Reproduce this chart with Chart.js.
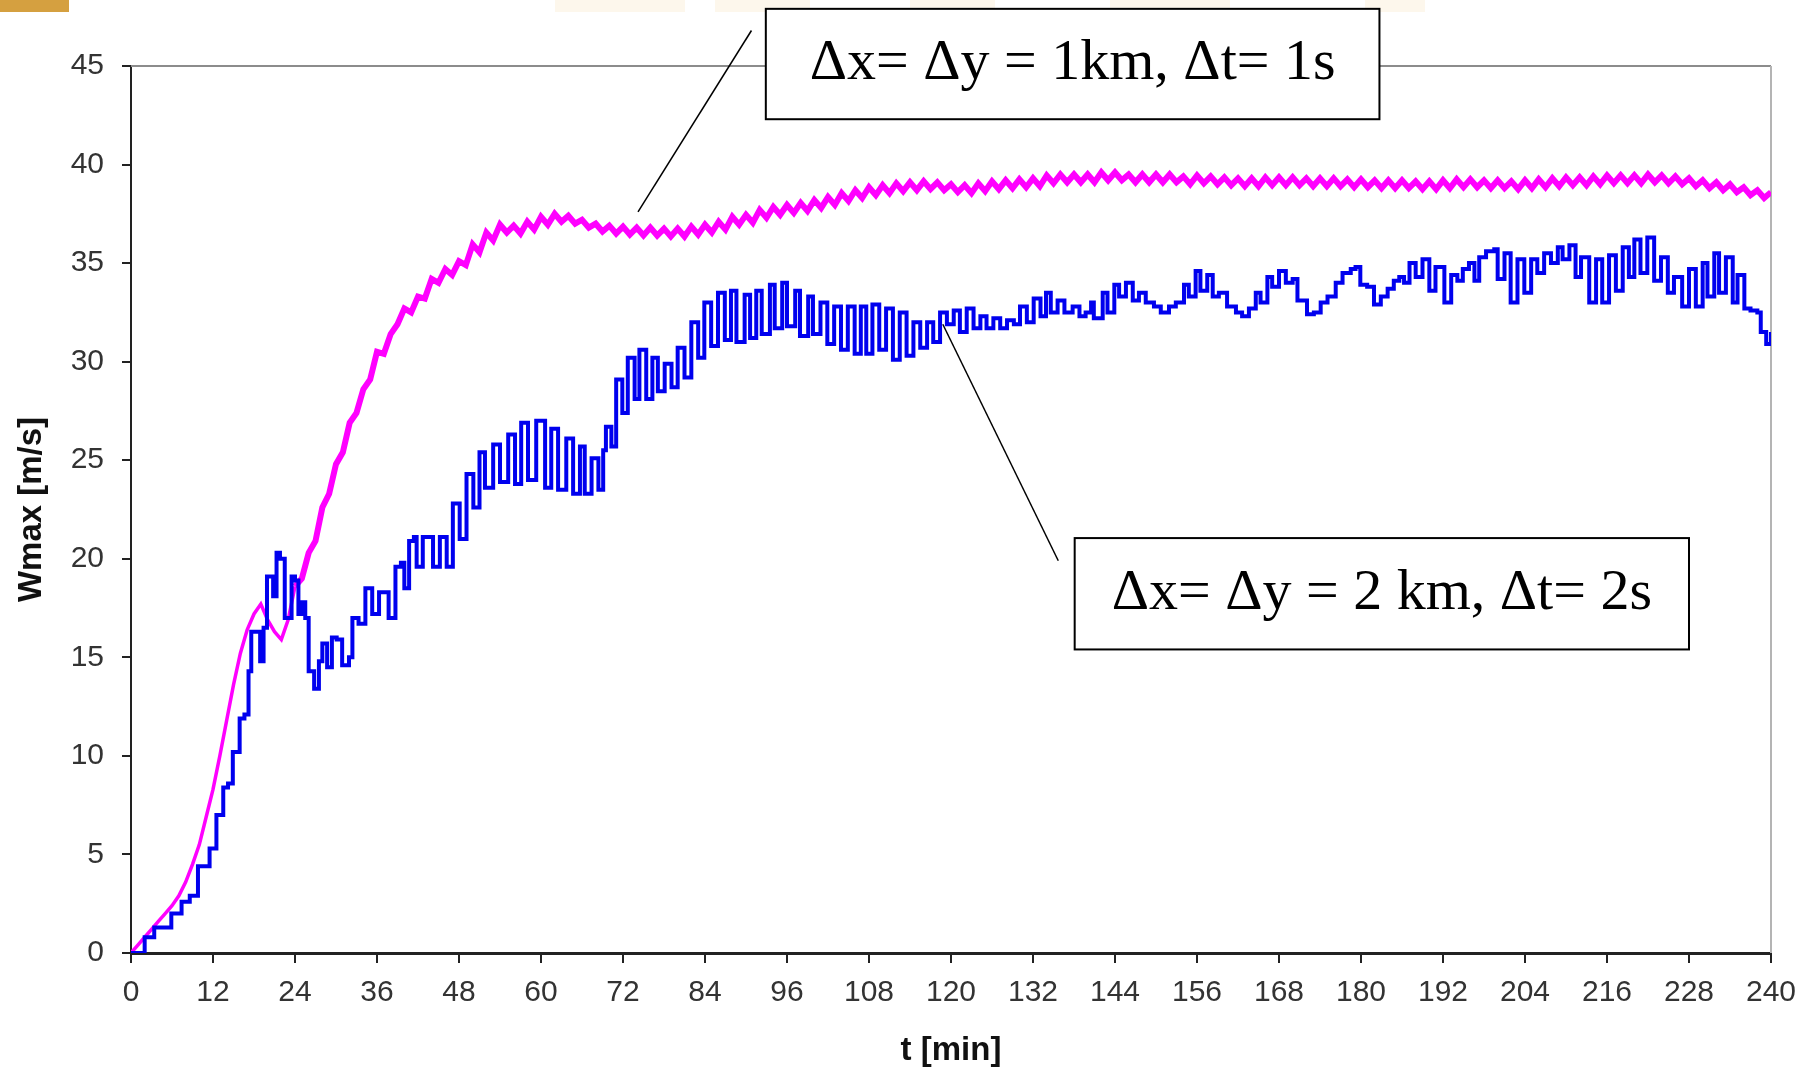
<!DOCTYPE html>
<html>
<head>
<meta charset="utf-8">
<title>Wmax vs t</title>
<script src="https://cdn.jsdelivr.net/npm/chart.js@4.4.0/dist/chart.umd.min.js"></script>
<style>
  html, body { margin: 0; padding: 0; background: #fff; }
  #wrap { width: 1814px; height: 1071px; }
</style>
</head>
<body>
<div id="wrap"><canvas id="wmaxChart" width="1814" height="1071"></canvas></div>
<script>
// Axis ticks
const tickMinutes = [0, 12, 24, 36, 48, 60, 72, 84, 96, 108, 120, 132, 144, 156, 168, 180, 192, 204, 216, 228, 240];
const tickWmax = [0, 5, 10, 15, 20, 25, 30, 35, 40, 45];

// dx = dy = 1 km, dt = 1 s (magenta), one reading per minute
const magentaT = [
  0, 1, 2, 3, 4, 5, 6, 7, 8, 9, 10, 11, 12, 13, 14, 15, 16, 17, 18, 19,
  20, 21, 22, 23, 24, 25, 26, 27, 28, 29, 30, 31, 32, 33, 34, 35, 36, 37, 38, 39,
  40, 41, 42, 43, 44, 45, 46, 47, 48, 49, 50, 51, 52, 53, 54, 55, 56, 57, 58, 59,
  60, 61, 62, 63, 64, 65, 66, 67, 68, 69, 70, 71, 72, 73, 74, 75, 76, 77, 78, 79,
  80, 81, 82, 83, 84, 85, 86, 87, 88, 89, 90, 91, 92, 93, 94, 95, 96, 97, 98, 99,
  100, 101, 102, 103, 104, 105, 106, 107, 108, 109, 110, 111, 112, 113, 114, 115, 116, 117, 118, 119,
  120, 121, 122, 123, 124, 125, 126, 127, 128, 129, 130, 131, 132, 133, 134, 135, 136, 137, 138, 139,
  140, 141, 142, 143, 144, 145, 146, 147, 148, 149, 150, 151, 152, 153, 154, 155, 156, 157, 158, 159,
  160, 161, 162, 163, 164, 165, 166, 167, 168, 169, 170, 171, 172, 173, 174, 175, 176, 177, 178, 179,
  180, 181, 182, 183, 184, 185, 186, 187, 188, 189, 190, 191, 192, 193, 194, 195, 196, 197, 198, 199,
  200, 201, 202, 203, 204, 205, 206, 207, 208, 209, 210, 211, 212, 213, 214, 215, 216, 217, 218, 219,
  220, 221, 222, 223, 224, 225, 226, 227, 228, 229, 230, 231, 232, 233, 234, 235, 236, 237, 238, 239,
  240
];
const magentaW = [
  0, 0.4, 0.8, 1.2, 1.6, 2.0, 2.4, 2.9, 3.6, 4.5,
  5.5, 6.9, 8.3, 10.0, 11.8, 13.6, 15.2, 16.4, 17.2, 17.7,
  16.9, 16.3, 15.9, 16.9, 18.6, 19.0, 20.3, 20.9, 22.6, 23.3,
  24.8, 25.4, 26.9, 27.4, 28.6, 29.1, 30.5, 30.4, 31.4, 31.9,
  32.7, 32.5, 33.3, 33.2, 34.2, 34.0, 34.7, 34.4, 35.1, 34.9,
  35.95, 35.55, 36.55, 36.15, 36.95, 36.55, 36.9, 36.5, 37.1, 36.7,
  37.35, 36.95, 37.5, 37.1, 37.4, 37.0, 37.2, 36.8, 37.0, 36.6,
  36.9, 36.5, 36.85, 36.45, 36.8, 36.4, 36.8, 36.4, 36.75, 36.35,
  36.75, 36.35, 36.85, 36.45, 36.95, 36.55, 37.1, 36.7, 37.35, 36.95,
  37.45, 37.05, 37.7, 37.3, 37.85, 37.45, 37.95, 37.55, 38.05, 37.65,
  38.2, 37.8, 38.35, 37.95, 38.55, 38.15, 38.7, 38.3, 38.85, 38.45,
  38.95, 38.55, 39.05, 38.65, 39.1, 38.7, 39.15, 38.75, 39.1, 38.7,
  39.0, 38.6, 38.95, 38.55, 39.05, 38.65, 39.15, 38.75, 39.2, 38.8,
  39.25, 38.85, 39.3, 38.9, 39.45, 39.05, 39.5, 39.1, 39.5, 39.1,
  39.5, 39.1, 39.6, 39.2, 39.6, 39.2, 39.5, 39.1, 39.5, 39.1,
  39.5, 39.1, 39.5, 39.1, 39.4, 39.0, 39.45, 39.05, 39.4, 39.0,
  39.35, 38.95, 39.3, 38.9, 39.3, 38.9, 39.35, 38.95, 39.35, 38.95,
  39.35, 38.95, 39.3, 38.9, 39.3, 38.9, 39.3, 38.9, 39.25, 38.85,
  39.25, 38.85, 39.2, 38.8, 39.2, 38.8, 39.2, 38.8, 39.15, 38.75,
  39.15, 38.75, 39.2, 38.8, 39.25, 38.85, 39.25, 38.85, 39.2, 38.8,
  39.2, 38.8, 39.15, 38.75, 39.2, 38.8, 39.25, 38.85, 39.3, 38.9,
  39.35, 38.95, 39.35, 38.95, 39.4, 39.0, 39.45, 39.05, 39.45, 39.05,
  39.45, 39.05, 39.5, 39.1, 39.45, 39.05, 39.4, 39.0, 39.3, 38.9,
  39.2, 38.8, 39.1, 38.7, 39.0, 38.6, 38.85, 38.45, 38.7, 38.3,
  38.6
];

// dx = dy = 2 km, dt = 2 s (blue), readings at each turn of the trace
const blueT = [
  0, 2, 3.4, 5.9, 7.4, 8.6, 9.8, 11.5, 12.5, 13.5,
  14.2, 14.9, 15.9, 16.6, 17.2, 17.6, 18.4, 18.9, 19.4, 19.9,
  20.6, 20.8, 21.3, 21.8, 22.5, 23.5, 24, 24.5, 25, 25.5,
  26, 26.8, 27.5, 28, 28.7, 29.4, 30.1, 30.9, 31.9, 32.4,
  33.3, 34.3, 35.3, 36.3, 37, 37.7, 38.7, 39.5, 40, 40.7,
  41.4, 41.8, 42.7, 44.2, 45.2, 46.2, 47.1, 48.1, 49.1, 50.1,
  51, 51.8, 53, 54, 55.2, 56.2, 57.1, 58.1, 59.3, 60.6,
  61.5, 62.5, 63.7, 64.7, 65.7, 66.4, 67.4, 68.4, 69.1, 69.5,
  70.3, 71, 71.9, 72.7, 73.7, 74.4, 75.4, 76.3, 77.1, 78.1,
  79.1, 80, 81, 82, 83, 83.9, 84.9, 85.9, 86.9, 87.8,
  88.6, 89.8, 90.6, 91.5, 92.3, 93.5, 94.2, 95.3, 96, 97.2,
  97.9, 99.1, 99.8, 100.9, 101.9, 102.9, 103.9, 104.9, 105.9, 106.8,
  107.6, 108.5, 109.5, 110.5, 111.5, 112.5, 113.5, 114.5, 115.5, 116.5,
  117.4, 118.4, 119.4, 120.4, 121.3, 122.3, 123.3, 124.3, 125.2, 126.2,
  127.2, 128.2, 129.2, 130.1, 131.1, 132.1, 133.1, 133.9, 134.6, 135.6,
  136.6, 137.8, 138.8, 139.7, 140.5, 140.9, 142.2, 142.9, 143.9, 144.6,
  145.6, 146.6, 147.5, 148.5, 149.7, 150.7, 151.9, 152.9, 154.1, 154.8,
  155.8, 156.5, 157.5, 158.3, 159.2, 160.4, 161.7, 162.6, 163.6, 164.6,
  165.3, 166.3, 167, 168, 169, 170, 170.7, 171.7, 172.1, 173.1,
  174.1, 175.1, 176.3, 177.3, 178.5, 179.2, 179.9, 180.9, 181.9, 182.9,
  183.9, 184.8, 185.6, 186.3, 187.1, 188, 189, 190, 190.9, 192.2,
  193.2, 194.1, 194.9, 195.8, 196.6, 197.3, 198.3, 199.5, 200, 201,
  201.9, 202.9, 203.9, 204.9, 205.8, 206.8, 207.8, 208.8, 209.5, 210.5,
  211.4, 212.2, 213.4, 214.4, 215.3, 216.3, 217.3, 218.3, 219.2, 220,
  220.9, 221.9, 222.9, 223.9, 224.9, 225.8, 227, 228, 229, 230,
  230.7, 231.7, 232.4, 233.4, 234.4, 235.1, 236.1, 237, 238, 238.5,
  239.3, 240
];
const blueW = [
  0, 0.8, 1.3, 2.0, 2.6, 2.9, 4.4, 5.3, 7.0, 8.4,
  8.6, 10.2, 11.9, 12.1, 14.3, 16.3, 16.3, 14.8, 16.5, 19.1,
  19.1, 18.1, 20.3, 20.0, 17.0, 19.1, 18.9, 17.2, 17.8, 17.0,
  14.3, 13.4, 14.8, 15.7, 14.5, 16.0, 15.9, 14.6, 15.0, 17.0,
  16.7, 18.5, 17.2, 18.3, 18.3, 17.0, 19.6, 19.8, 18.5, 20.9,
  21.1, 19.6, 21.1, 19.6, 21.1, 19.6, 22.8, 21.0, 24.3, 22.6,
  25.4, 23.6, 25.8, 23.9, 26.3, 23.8, 26.9, 24.0, 27.0, 23.6,
  26.6, 23.5, 26.1, 23.3, 25.7, 23.3, 25.1, 23.5, 25.5, 26.7,
  25.7, 29.1, 27.4, 30.2, 28.1, 30.6, 28.1, 30.2, 28.5, 29.9,
  28.7, 30.7, 29.2, 32.0, 30.2, 33.0, 30.8, 33.5, 31.1, 33.6,
  31.0, 33.4, 31.2, 33.6, 31.4, 33.9, 31.7, 34.0, 31.8, 33.6,
  31.3, 33.3, 31.4, 33.0, 30.9, 32.8, 30.6, 32.8, 30.4, 32.8,
  30.4, 32.9, 30.6, 32.7, 30.1, 32.5, 30.3, 32.0, 30.7, 32.0,
  31.0, 32.5, 31.9, 32.6, 31.5, 32.7, 31.7, 32.3, 31.7, 32.2,
  31.7, 32.1, 31.9, 32.8, 32.0, 33.2, 32.3, 33.5, 32.5, 33.1,
  32.5, 32.8, 32.3, 32.5, 33.0, 32.2, 33.5, 32.5, 33.9, 33.3,
  34.0, 33.1, 33.5, 33.0, 32.8, 32.5, 32.8, 33.0, 33.9, 33.3,
  34.6, 33.6, 34.4, 33.3, 33.5, 32.8, 32.5, 32.3, 32.7, 33.5,
  33.0, 34.3, 33.8, 34.6, 34.0, 34.2, 33.1, 33.1, 32.4, 32.5,
  33.0, 33.3, 34.0, 34.5, 34.7, 34.8, 33.9, 33.8, 32.9, 33.3,
  33.7, 34.1, 34.3, 34.0, 35.0, 34.3, 35.2, 33.6, 34.8, 33.0,
  34.4, 34.1, 34.7, 35.0, 34.1, 35.3, 35.6, 35.7, 34.2, 35.5,
  33.0, 35.2, 33.5, 35.2, 34.5, 35.5, 35.0, 35.8, 35.2, 35.9,
  34.3, 35.3, 33.0, 35.2, 33.0, 35.4, 33.6, 35.8, 34.3, 36.2,
  34.5, 36.3, 34.1, 35.3, 33.5, 34.3, 32.8, 34.7, 32.8, 35.0,
  33.3, 35.5, 33.5, 35.3, 33.0, 34.4, 32.7, 32.6, 32.5, 31.5,
  30.9, 31.5
];

// Callout boxes, in data units: [tLeft, tRight, wTop, wBottom], leader from -> to
const notes = [
  { text: 'Δx= Δy = 1km, Δt= 1s', box: [92.9, 182.7, 47.9, 42.3], from: [74.2, 37.6], to: [90.8, 46.8] },
  { text: 'Δx= Δy = 2 km, Δt= 2s', box: [138.1, 228.0, 21.05, 15.4], from: [118.8, 31.9], to: [135.7, 19.9] }
];

const sansFamily = '"Liberation Sans", Arial, sans-serif';
const serifFamily = '"Liberation Serif", "Times New Roman", serif';

const zip = (xs, ys) => xs.map((x, i) => ({ x, y: ys[i] }));

// slide header remnants, frame lines and the callouts
const decorations = {
  id: 'decorations',
  beforeDraw(chart) {
    const { ctx } = chart;
    ctx.save();
    ctx.fillStyle = '#fff';
    ctx.fillRect(0, 0, chart.width, chart.height);
    ctx.fillStyle = '#d5a040';
    ctx.fillRect(0, 0, 69, 12);
    ctx.fillStyle = 'rgba(240, 200, 120, 0.14)';
    [[555, 130], [715, 95], [910, 85], [1110, 120], [1365, 60]].forEach(([l, w]) => ctx.fillRect(l, 0, w, 12));
    ctx.restore();
  },
  beforeDatasetsDraw(chart) {
    const { ctx, chartArea: a } = chart;
    ctx.save();
    ctx.lineWidth = 2;
    ctx.strokeStyle = '#8c8c8c';
    ctx.beginPath();
    ctx.moveTo(a.left, a.top);
    ctx.lineTo(a.right, a.top);
    ctx.stroke();
    ctx.strokeStyle = '#b4b4b4';
    ctx.beginPath();
    ctx.moveTo(a.right, a.top);
    ctx.lineTo(a.right, a.bottom);
    ctx.stroke();
    ctx.restore();
  },
  afterDraw(chart) {
    const { ctx, scales: { x, y } } = chart;
    ctx.save();
    notes.forEach(n => {
      ctx.strokeStyle = '#000';
      ctx.lineWidth = 1.5;
      ctx.beginPath();
      ctx.moveTo(x.getPixelForValue(n.from[0]), y.getPixelForValue(n.from[1]));
      ctx.lineTo(x.getPixelForValue(n.to[0]), y.getPixelForValue(n.to[1]));
      ctx.stroke();

      const l = x.getPixelForValue(n.box[0]);
      const r = x.getPixelForValue(n.box[1]);
      const t = y.getPixelForValue(n.box[2]);
      const b = y.getPixelForValue(n.box[3]);
      ctx.fillStyle = '#fff';
      ctx.fillRect(l, t, r - l, b - t);
      ctx.lineWidth = 2;
      ctx.strokeRect(l, t, r - l, b - t);
      ctx.fillStyle = '#000';
      ctx.font = `58px ${serifFamily}`;
      ctx.textAlign = 'center';
      ctx.textBaseline = 'alphabetic';
      ctx.fillText(n.text, (l + r) / 2, (t + b) / 2 + 15);
    });
    ctx.restore();
  }
};

const ctx = document.getElementById('wmaxChart').getContext('2d');

new Chart(ctx, {
  type: 'line',
  data: {
    datasets: [
      {
        label: 'Δx= Δy = 1km, Δt= 1s',
        data: zip(magentaT, magentaW),
        borderColor: '#ff00ff',
        borderWidth: 6,
        borderJoinStyle: 'miter',
        pointRadius: 0,
        tension: 0,
        // thin smooth rise, thick noisy band once the oscillation sets in
        segment: { borderWidth: s => (s.p0.parsed.x < 24 ? 3.5 : 6) },
        order: 2
      },
      {
        label: 'Δx= Δy = 2 km, Δt= 2s',
        data: zip(blueT, blueW),
        borderColor: '#0000ee',
        borderWidth: 4,
        pointRadius: 0,
        stepped: true,
        order: 1
      }
    ]
  },
  options: {
    responsive: false,
    animation: false,
    layout: { padding: { top: 66, right: 43, bottom: 0, left: 0 } },
    plugins: {
      legend: { display: false },
      tooltip: { enabled: false }
    },
    scales: {
      x: {
        type: 'linear',
        min: 0,
        max: 240,
        afterBuildTicks: s => { s.ticks = tickMinutes.map(v => ({ value: v })); },
        afterFit: s => { s.height = 118; },
        grid: { drawOnChartArea: false, drawTicks: true, tickLength: 10, color: '#222', lineWidth: 2 },
        border: { display: true, color: '#222', width: 3 },
        ticks: { font: { family: sansFamily, size: 30 }, color: '#333', padding: 12, maxRotation: 0, autoSkip: false },
        title: {
          display: true,
          text: 't [min]',
          font: { family: sansFamily, size: 33, weight: 'bold' },
          color: '#111',
          padding: { top: 0, bottom: 0 }
        }
      },
      y: {
        type: 'linear',
        min: 0,
        max: 45,
        afterBuildTicks: s => { s.ticks = tickWmax.map(v => ({ value: v })); },
        afterFit: s => { s.width = 131; },
        grid: { drawOnChartArea: false, drawTicks: true, tickLength: 9, color: '#222', lineWidth: 2 },
        border: { display: true, color: '#222', width: 2 },
        ticks: { font: { family: sansFamily, size: 30 }, color: '#333', padding: 18 },
        title: {
          display: true,
          text: 'Wmax [m/s]',
          font: { family: sansFamily, size: 33, weight: 'bold' },
          color: '#111',
          padding: { top: 12, bottom: 0 }
        }
      }
    }
  },
  plugins: [decorations]
});
</script>
</body>
</html>
